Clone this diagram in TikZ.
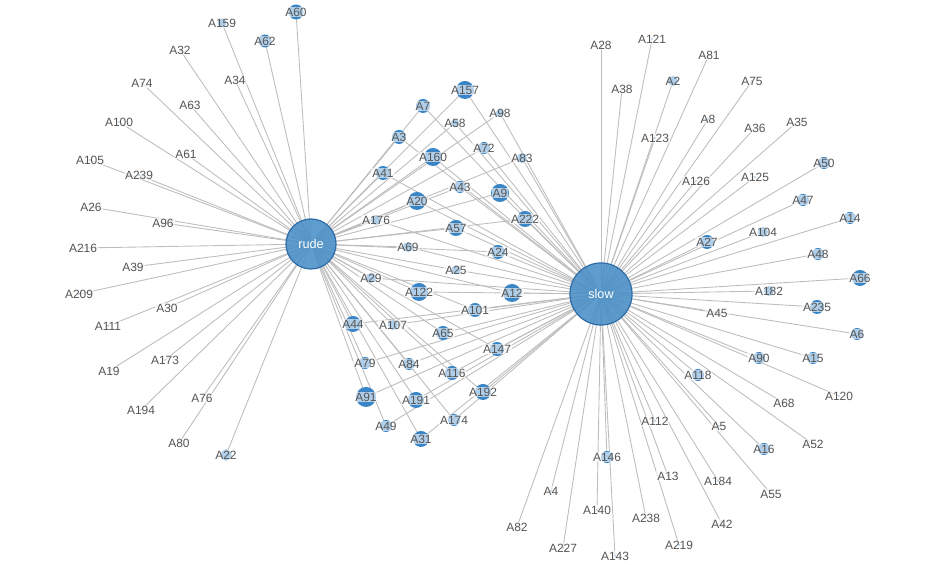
\documentclass[tikz,border=0pt]{standalone}
\usepackage{fontspec}
\setsansfont{Liberation Sans}
\usetikzlibrary{backgrounds}

\definecolor{hubfill}{HTML}{4A8FC8}
\definecolor{hubline}{HTML}{2F6DA8}
\definecolor{dotfill}{HTML}{3A85C6}
\definecolor{linkgray}{HTML}{BDBDBD}
\definecolor{tagtext}{HTML}{555555}

\begin{document}
\begin{tikzpicture}[x=0.01cm,y=-0.01cm,
    hub/.style={circle,draw=hubline,fill=hubfill,fill opacity=.88,text opacity=1,
      line width=.35pt,inner sep=0pt,minimum size=#1*0.1mm,text=white,
      font=\sffamily\fontsize{3.6}{4}\selectfont},
    bub/.style={circle,fill=dotfill,inner sep=0pt,minimum size=#1*0.1mm},
    every label/.style={font=\sffamily\fontsize{3.4}{4}\selectfont,text=tagtext,
      fill=white,fill opacity=.6,text opacity=1,inner sep=.25pt},
    link/.style={draw=linkgray,line width=.25pt}]
  \useasboundingbox (0,0) rectangle (936,565);

  % the two words
  \node[hub=50] (rude) at (311,244) {rude};
  \node[hub=62] (slow) at (601,294) {slow};

  % users linked to rude only
  \foreach \n/\x/\y/\d in {A159/222/23/9, A60/296/12/15, A62/265/41/13,
      A32/180/50/2, A34/235/80/2, A74/142/83/2, A63/190/105/2, A100/119/122/2,
      A61/186/154/2, A105/90/160/2, A239/139/175/2, A26/91/207/2, A96/163/223/2,
      A216/83/248/2, A39/133/267/2, A209/79/294/2, A30/167/308/2, A111/108/326/2,
      A19/109/371/2, A173/165/360/2, A194/141/410/2, A76/202/398/2, A80/179/443/2,
      A22/226/455/11}
    \node[bub=\d,label={center:\n}] (\n) at (\x,\y) {};

  % users linked to both
  \foreach \n/\x/\y/\d in {A157/465/90/18, A7/423/106/14, A58/455/123/8,
      A98/500/113/8, A3/399/137/14, A72/484/148/12, A83/522/158/10,
      A160/433/157/18, A41/383/173/14, A43/460/187/12, A9/500/193/18,
      A20/417/201/18, A176/376/220/10, A222/525/219/16, A57/456/228/16,
      A69/408/247/10, A24/498/252/14, A25/456/270/9, A29/371/278/10,
      A122/419/292/18, A12/512/293/18, A101/475/310/14, A44/353/324/16,
      A107/393/325/10, A65/443/333/14, A147/497/349/14, A79/365/363/12,
      A84/409/364/12, A116/452/373/14, A91/366/397/20, A191/416/400/16,
      A192/483/392/16, A174/454/420/12, A49/386/426/12, A31/421/439/16}
    \node[bub=\d,label={center:\n}] (\n) at (\x,\y) {};

  % users linked to slow only
  \foreach \n/\x/\y/\d in {A28/601/45/2, A121/652/39/2, A81/709/55/2,
      A2/673/81/10, A75/752/81/2, A38/622/89/2, A8/708/119/2, A123/655/138/2,
      A36/755/128/2, A35/797/122/2, A126/696/181/2, A125/755/177/2,
      A27/707/242/14, A104/763/232/10, A50/824/163/12, A47/803/200/12,
      A14/850/218/12, A48/818/254/12, A66/860/278/16, A182/769/291/10,
      A235/817/307/14, A45/717/313/2, A6/857/334/12, A90/759/358/12,
      A15/813/358/12, A118/698/375/12, A120/839/396/2, A68/784/403/2,
      A112/655/421/2, A5/719/426/2, A52/813/444/2, A16/764/449/12,
      A146/607/457/12, A13/668/476/2, A184/718/481/2, A55/771/494/2,
      A140/597/510/2, A238/646/518/2, A42/722/524/2, A219/679/545/2,
      A143/615/556/2, A227/563/548/2, A4/551/491/2, A82/517/527/2}
    \node[bub=\d,label={center:\n}] (\n) at (\x,\y) {};

  \begin{scope}[on background layer]
    \foreach \n in {A159,A60,A62,A32,A34,A74,A63,A100,A61,A105,A239,A26,A96,
        A216,A39,A209,A30,A111,A19,A173,A194,A76,A80,A22}
      \path[link] (rude.center) -- (\n.center);
    \foreach \n in {A157,A7,A58,A98,A3,A72,A83,A160,A41,A43,A9,A20,A176,A222,
        A57,A69,A24,A25,A29,A122,A12,A101,A44,A107,A65,A147,A79,A84,A116,A91,
        A191,A192,A174,A49,A31}
      \path[link] (rude.center) -- (\n.center) -- (slow.center);
    \foreach \n in {A28,A121,A81,A2,A75,A38,A8,A123,A36,A35,A126,A125,A27,A104,
        A50,A47,A14,A48,A66,A182,A235,A45,A6,A90,A15,A118,A120,A68,A112,A5,A52,
        A16,A146,A13,A184,A55,A140,A238,A42,A219,A143,A227,A4,A82}
      \path[link] (slow.center) -- (\n.center);
  \end{scope}
\end{tikzpicture}
\end{document}
